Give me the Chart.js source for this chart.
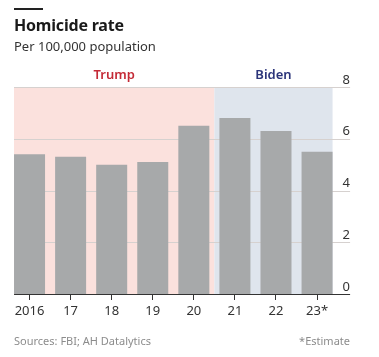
<!DOCTYPE html>
<html>
<head>
<meta charset="utf-8">
<script src="https://cdn.jsdelivr.net/npm/chart.js@4.4.1/dist/chart.umd.min.js"></script>
<style>
  html, body { margin: 0; padding: 0; background: #fff; }
  #wrap { position: relative; width: 379px; height: 357px; overflow: hidden; font-family: "Noto Sans", "Open Sans", sans-serif; }
  canvas { position: absolute; left: 0; top: 0; }
  .rule { position: absolute; left: 14px; top: 8px; width: 29px; height: 1.5px; background: #222; }
  .title { position: absolute; left: 14px; top: 14px; font-size: 16px; font-weight: 700; color: #1a1a1a; line-height: 22px; letter-spacing: -0.2px; }
  .sub { position: absolute; left: 14px; top: 37px; font-size: 13px; color: #333; line-height: 18px; }
  .src { position: absolute; left: 14px; top: 333px; font-size: 11px; color: #8c8c8c; line-height: 16px; }
  .est { position: absolute; right: 29px; top: 333px; font-size: 11px; color: #8c8c8c; line-height: 16px; }
</style>
</head>
<body>
<div id="wrap">
  <canvas id="c" width="379" height="357"></canvas>
  <div class="rule"></div>
  <div class="title">Homicide rate</div>
  <div class="sub">Per 100,000 population</div>
  <div class="src">Sources: FBI; AH Datalytics</div>
  <div class="est">*Estimate</div>
</div>
<script>
const categories = ["2016", "17", "18", "19", "20", "21", "22", "23*"];
const homicideRate = [5.4, 5.3, 5.0, 5.1, 6.5, 6.8, 6.3, 5.5];
const yTicks = [0, 2, 4, 6, 8];
const periods = [
  { label: "Trump", from: 0, to: 4, fill: "#fbe1dd", text: "#c42a36" },
  { label: "Biden", from: 5, to: 7, fill: "#dfe5ed", text: "#2c357a" }
];

const FONT = '"Noto Sans", "Open Sans", sans-serif';

const decor = {
  id: 'decor',
  beforeDatasetsDraw(chart) {
    const ctx = chart.ctx;
    const x = chart.scales.x, y = chart.scales.y;
    const meta = chart.getDatasetMeta(0);
    const bars = meta.data;
    const half = bars[0].width / 2;
    const top = y.getPixelForValue(8), bottom = y.getPixelForValue(0);
    ctx.save();
    periods.forEach(p => {
      const l = p.from === 0 ? bars[p.from].x - half : x.getPixelForValue(p.from - 0.5);
      const r = p.to === categories.length - 1 ? bars[p.to].x + half : x.getPixelForValue(p.to + 0.5);
      ctx.fillStyle = p.fill;
      ctx.fillRect(l, top, r - l, bottom - top);
      ctx.fillStyle = p.text;
      ctx.font = '600 13px ' + FONT;
      ctx.textAlign = 'center';
      ctx.textBaseline = 'middle';
      ctx.fillText(p.label, (l + r) / 2, top - 12);
    });
    const gl = bars[0].x - half;
    const gr = chart.chartArea.right + 12.5;
    ctx.strokeStyle = '#d6d1cf';
    ctx.lineWidth = 1;
    yTicks.forEach(v => {
      if (v === 0) return;
      const py = Math.round(y.getPixelForValue(v)) + 0.5;
      ctx.beginPath(); ctx.moveTo(gl, py); ctx.lineTo(gr, py); ctx.stroke();
    });
    ctx.restore();
  },
  afterDatasetsDraw(chart) {
    const ctx = chart.ctx;
    const y = chart.scales.y;
    const bars = chart.getDatasetMeta(0).data;
    const gl = bars[0].x - bars[0].width / 2;
    const gr = chart.chartArea.right + 12.5;
    const py = Math.round(y.getPixelForValue(0)) + 0.5;
    ctx.save();
    ctx.strokeStyle = '#333';
    ctx.lineWidth = 1.2;
    ctx.beginPath(); ctx.moveTo(gl, py); ctx.lineTo(gr, py); ctx.stroke();
    ctx.restore();
  }
};

new Chart(document.getElementById('c'), {
  type: 'bar',
  data: {
    labels: categories,
    datasets: [{
      data: homicideRate,
      backgroundColor: '#a7a9aa',
      borderWidth: 0,
      barPercentage: 0.755,
      categoryPercentage: 1.0
    }]
  },
  options: {
    responsive: false,
    animation: false,
    devicePixelRatio: 1,
    layout: { padding: { left: 9, right: 0, top: 87, bottom: 0 } },
    plugins: { legend: { display: false }, tooltip: { enabled: false } },
    scales: {
      x: {
        offset: true,
        grid: { display: true, drawOnChartArea: false, drawTicks: true, tickLength: 6, offset: false, color: '#333', lineWidth: 1 },
        border: { display: false },
        ticks: { color: '#333', font: { family: FONT, size: 13 }, padding: 3, maxRotation: 0, autoSkip: false },
        afterFit(s) { s.height = 63; }
      },
      y: {
        position: 'right',
        min: 0, max: 8,
        afterBuildTicks(s) { s.ticks = yTicks.map(v => ({ value: v })); },
        grid: { display: false, drawTicks: false },
        border: { display: false },
        ticks: { color: '#333', font: { family: FONT, size: 13 }, padding: 5, labelOffset: -7 },
        afterFit(s) { s.width = 41.4; }
      }
    }
  },
  plugins: [decor]
});
</script>
</body>
</html>
